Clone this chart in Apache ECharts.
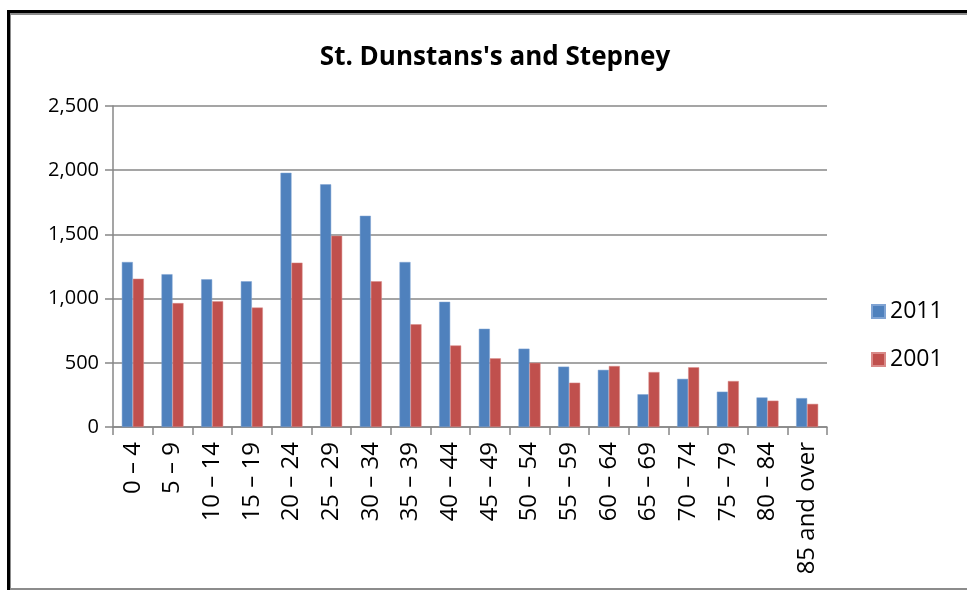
<!DOCTYPE html>
<html>
<head>
<meta charset="utf-8">
<script src="https://cdn.jsdelivr.net/npm/echarts@6/dist/echarts.min.js"></script>
<style>
  html, body { margin: 0; padding: 0; background: #fff; }
  #main { position: absolute; left: 0; top: 0; width: 967px; height: 590px; }
  .frame-black { position: absolute; left: 7px; top: 10px; width: 960px; height: 580px;
    border-top: 3px solid #000; border-left: 3px solid #000; box-sizing: border-box; pointer-events: none; }
  .frame-grey { position: absolute; left: 10px; top: 13px; width: 957px; height: 577px;
    border-top: 2px solid #8c8c8c; border-left: 1px solid #8c8c8c; border-bottom: 2px solid #8c8c8c;
    box-sizing: border-box; pointer-events: none; }
</style>
</head>
<body>
<div id="main"></div>
<div class="frame-black"></div>
<div class="frame-grey"></div>
<script>
// age bands
const ageGroups = ['0 – 4', '5 – 9', '10 – 14', '15 – 19', '20 – 24', '25 – 29', '30 – 34', '35 – 39',
  '40 – 44', '45 – 49', '50 – 54', '55 – 59', '60 – 64', '65 – 69', '70 – 74', '75 – 79', '80 – 84', '85 and over']
const pop2011 = [1285, 1190, 1150, 1135, 1980, 1890, 1645, 1285, 975, 765, 610, 470, 445, 255, 375, 275, 230, 225]
const pop2001 = [1155, 965, 980, 930, 1280, 1490, 1135, 800, 635, 535, 500, 345, 475, 428, 465, 358, 205, 180]
const yTicks = [0, 500, 1000, 1500, 2000, 2500]

const font = '"Open Sans", "Noto Sans", sans-serif'
const gridGrey = '#878787'

const myChart = echarts.init(document.getElementById('main'))
const option = {
  animation: false,
  textStyle: { fontFamily: font },
  title: {
    text: "St. Dunstans's and Stepney",
    left: 490,
    textAlign: 'center',
    top: 40,
    textStyle: { fontFamily: font, fontWeight: 'bold', fontSize: 26, color: '#000' },
  },
  legend: {
    orient: 'vertical',
    left: 866,
    top: 295,
    itemWidth: 13,
    itemHeight: 13,
    itemGap: 25,
    icon: 'rect',
    textStyle: { fontFamily: font, fontSize: 23, color: '#000' },
    data: ['2011', '2001'],
  },
  grid: { left: 113, right: 140, top: 106, bottom: 163, containLabel: false },
  xAxis: {
    type: 'category',
    data: ageGroups,
    axisLine: { lineStyle: { color: gridGrey, width: 1.5 } },
    axisTick: { show: true, length: 8, lineStyle: { color: gridGrey, width: 1.5 } },
    axisLabel: { rotate: 90, interval: 0, margin: 15, fontFamily: font, fontSize: 24, color: '#000' },
  },
  yAxis: {
    type: 'value',
    min: yTicks[0],
    max: yTicks[yTicks.length - 1],
    interval: 500,
    axisLine: { show: true, lineStyle: { color: gridGrey, width: 1.5 } },
    axisTick: { show: true, length: 8, lineStyle: { color: gridGrey, width: 1.5 } },
    splitLine: { lineStyle: { color: gridGrey, width: 1.5 } },
    axisLabel: {
      margin: 14, fontFamily: font, fontSize: 20, color: '#000',
      formatter: (v) => v.toLocaleString('en-US'),
    },
  },
  series: [
    {
      name: '2011',
      type: 'bar',
      data: pop2011,
      barWidth: 11,
      barGap: '0%',
      itemStyle: { color: '#4F81BD', borderColor: '#7FA3D3', borderWidth: 0.5 },
    },
    {
      name: '2001',
      type: 'bar',
      data: pop2001,
      barWidth: 11,
      barGap: '0%',
      itemStyle: { color: '#C0504D', borderColor: '#D98A88', borderWidth: 0.5 },
    },
  ],
}
option && myChart.setOption(option)
</script>
</body>
</html>
